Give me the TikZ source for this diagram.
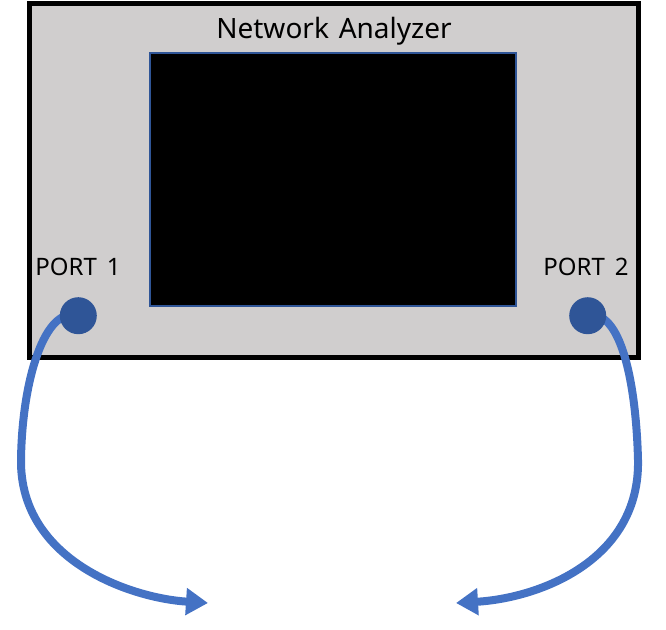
\documentclass[tikz,border=0pt]{standalone}
\usepackage{fontspec}
\setmainfont{Noto Sans}
\usetikzlibrary{arrows.meta}
\definecolor{boxgray}{HTML}{D0CECE}
\definecolor{portblue}{HTML}{2F5597}
\definecolor{cableblue}{HTML}{4472C4}
\pgfdeclarelayer{bg}
\pgfdeclarelayer{fg}
\pgfsetlayers{bg,main,fg}
\tikzset{
  analyzer/.style={draw=black, line width=5pt, fill=boxgray, minimum width=609pt, minimum height=354pt, inner sep=0pt, outer sep=0pt},
  screen/.style={draw=portblue, line width=1.5pt, fill=black, minimum width=366pt, minimum height=253pt, inner sep=0pt},
  port/.style={circle, fill=portblue, minimum size=37pt, inner sep=0pt},
  lbl/.style={font=\fontsize{24}{28}\selectfont, anchor=base, inner sep=0pt},
  ttl/.style={font=\fontsize{28}{33}\selectfont, anchor=base, inner sep=0pt},
  cable/.style={draw=cableblue, line width=8pt, -{Triangle[length=22pt, width=26pt]}}
}
\begin{document}
\begin{tikzpicture}[x=1pt, y=-1pt]
\useasboundingbox (0,0) rectangle (666,629);
\begin{pgfonlayer}{bg}
  \node[analyzer] (na) at (333.5,180) {};
  \node[screen] (scr) at (333,179.5) {};
  \node[ttl] (title) at (334,38) {Network\hspace{0.35em}Analyzer};
  \node[lbl] (l1) at (78,275) {PORT\hspace{0.42em}1};
  \node[lbl] (l2) at (586,275) {PORT\hspace{0.42em}2};
\end{pgfonlayer}
\begin{pgfonlayer}{fg}
  \node[port] (p1) at (78.3,315.7) {};
  \node[port] (p2) at (587.7,315.7) {};
\end{pgfonlayer}
\coordinate (t1) at (208,603);
\coordinate (t2) at (456,603);
\draw[cable] (p1.center) .. controls (45,305) and (22,380) .. (21,460)
  .. controls (20,560) and (130,598) .. (t1);
\draw[cable] (p2.center) .. controls (620,308) and (636,380) .. (638,460)
  .. controls (640,560) and (540,598) .. (t2);
\end{tikzpicture}
\end{document}
